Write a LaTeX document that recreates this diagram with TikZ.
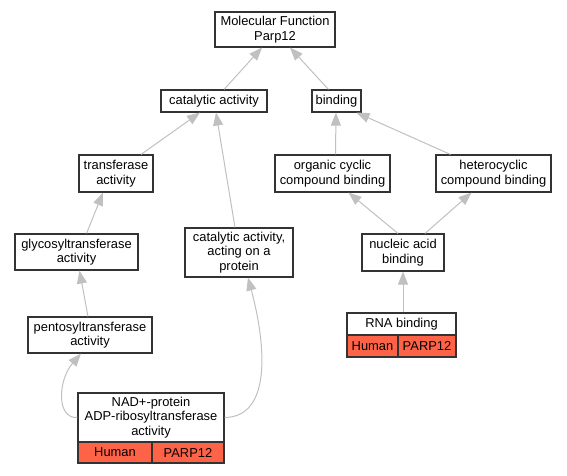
\documentclass[tikz,border=0pt]{standalone}
\usepackage{fontspec}
\setmainfont{Liberation Sans}
\usetikzlibrary{arrows.meta,calc}
\definecolor{edgegray}{HTML}{C0C0C0}
\definecolor{cellred}{HTML}{FF6347}
\begin{document}
\begin{tikzpicture}[x=1pt,y=-1pt,
  box/.style={draw=black!80,line width=1.1pt,fill=white,rectangle,inner sep=0pt,
    align=center,font=\fontsize{12.9}{14.5}\selectfont},
  cell/.style={box,fill=cellred},
  edge/.style={draw=edgegray,line width=1pt,-{Triangle[length=13pt,width=10pt]}}]
\useasboundingbox (0,0) rectangle (567,475);
\node[box,minimum width=120pt,minimum height=35pt] (mf) at (275,29.5) {Molecular Function\\Parp12};
\node[box,minimum width=106pt,minimum height=22pt] (cat) at (214,101) {catalytic activity};
\node[box,minimum width=49pt,minimum height=22pt] (bind) at (336.5,101) {binding};
\node[box,minimum width=74pt,minimum height=37pt] (trans) at (116,173.5) {transferase\\activity};
\node[box,minimum width=115pt,minimum height=37pt] (org) at (332.5,173.5) {organic cyclic\\compound binding};
\node[box,minimum width=115pt,minimum height=37pt] (het) at (493.5,173.5) {heterocyclic\\compound binding};
\node[box,minimum width=123pt,minimum height=36pt] (glyco) at (76.5,252) {glycosyltransferase\\activity};
\node[box,minimum width=108pt,minimum height=49pt] (catp) at (239,252.5) {catalytic activity,\\acting on a\\protein};
\node[box,minimum width=82pt,minimum height=37pt] (nuc) at (403,252.5) {nucleic acid\\binding};
\node[box,minimum width=124pt,minimum height=36pt] (pento) at (90,335) {pentosyltransferase\\activity};
\node[box,minimum width=109pt,minimum height=22pt] (rna) at (401.5,324) {RNA binding};
\node[cell,minimum width=51pt,minimum height=22pt] (rnah) at (372.5,346) {Human};
\node[cell,minimum width=58pt,minimum height=22pt] (rnap) at (427,346) {PARP12};
\node[box,minimum width=146pt,minimum height=49pt] (nad) at (151,417.5) {NAD+-protein\\ADP-ribosyltransferase\\activity};
\node[cell,minimum width=74pt,minimum height=21pt] (nadh) at (115,452.5) {Human};
\node[cell,minimum width=72pt,minimum height=21pt] (nadp) at (188,452.5) {PARP12};
\coordinate (pentoin) at ($(pento.south)+(-9,0)$);
\coordinate (catpin) at ($(catp.south)+(9,0)$);
\draw[edge] ($(cat.north)+(10,0)$) -- ($(mf.south)+(-13,0)$);
\draw[edge] ($(bind.north)+(-8,0)$) -- ($(mf.south)+(15,0)$);
\draw[edge] ($(trans.north)+(25,0)$) -- ($(cat.south)+(-14,0)$);
\draw[edge] ($(catp.north)+(-4,0)$) -- ($(cat.south)+(2,0)$);
\draw[edge] ($(org.north)+(3,0)$) -- ($(bind.south)+(-0.5,0)$);
\draw[edge] ($(het.north)+(-43,0)$) -- ($(bind.south)+(20,0)$);
\draw[edge] ($(glyco.north)+(10,0)$) -- ($(trans.south)+(-13,0)$);
\draw[edge] ($(nuc.north)+(-5,0)$) -- ($(org.south)+(16,0)$);
\draw[edge] ($(nuc.north)+(22,0)$) -- ($(het.south)+(-22,0)$);
\draw[edge] (pento.north) ++(-2,0) -- ($(glyco.south)+(3,0)$);
\draw[edge] (rna.north -| nuc.south) -- (nuc.south);
\draw[edge] (nad.west) .. controls (56,419) and (58,380) .. (pentoin);
\draw[edge] (nad.east) .. controls (272,417) and (266,345) .. (catpin);
\end{tikzpicture}
\end{document}
